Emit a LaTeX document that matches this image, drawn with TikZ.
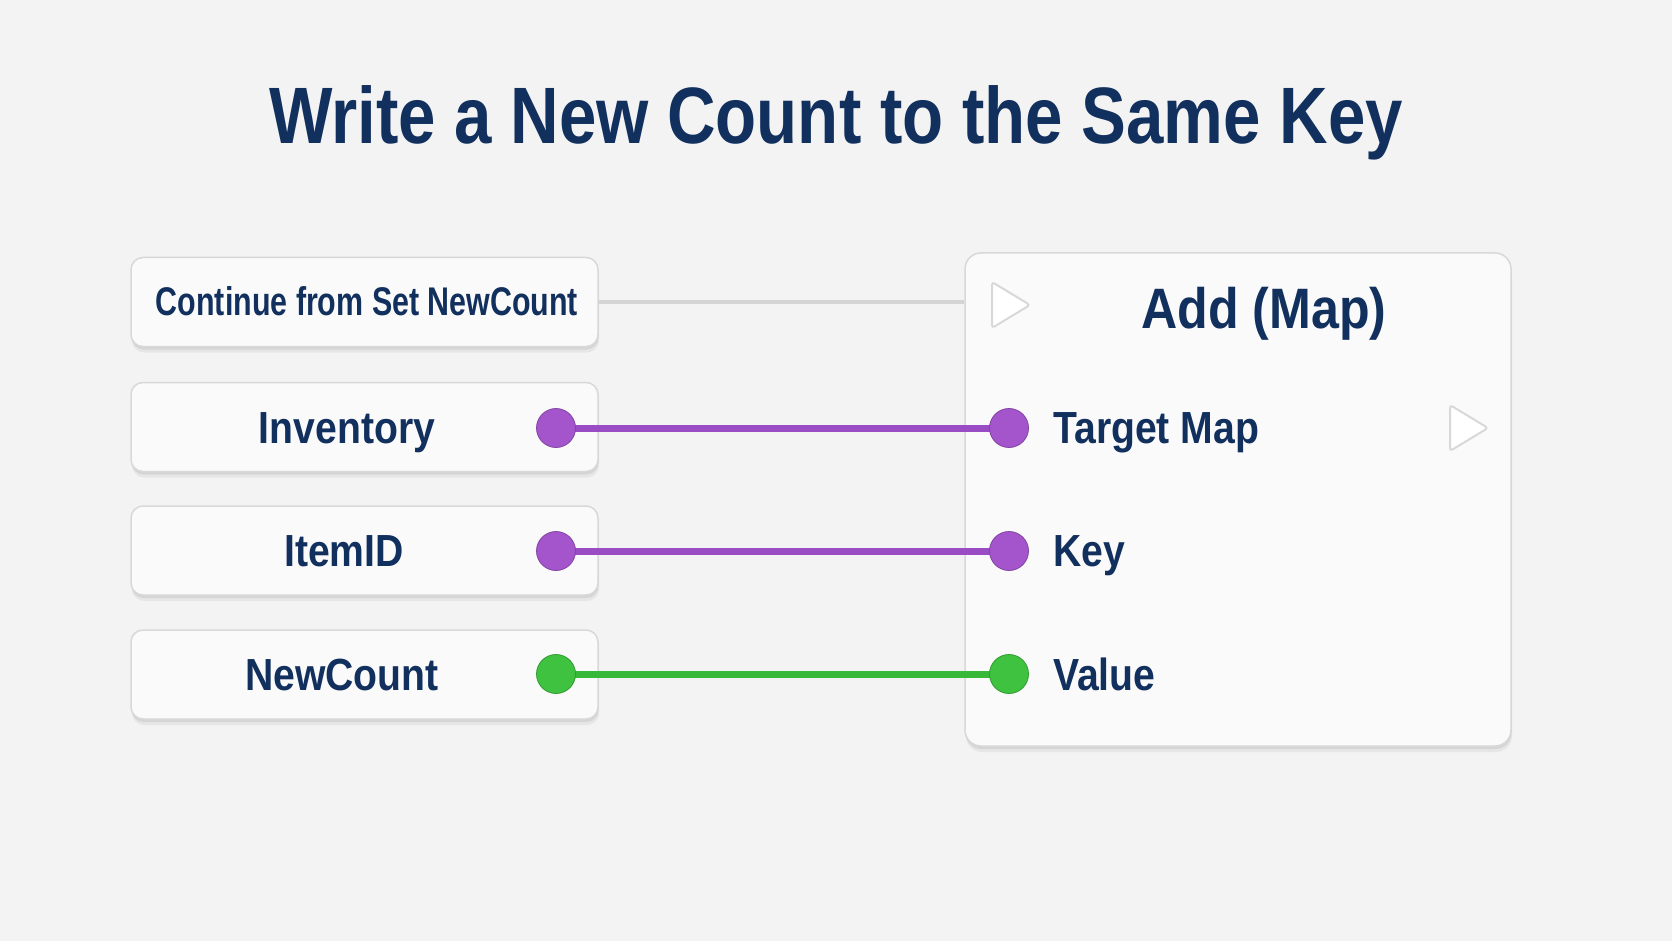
\documentclass[tikz,border=0pt]{standalone}
\usepackage{fontspec}
\setmainfont{Liberation Sans}
\newfontfamily\ttlfont[FakeStretch=0.84]{Liberation Sans}
\newfontfamily\lblfont[FakeStretch=0.87]{Liberation Sans}
\newfontfamily\addfont[FakeStretch=0.88]{Liberation Sans}
\newfontfamily\contfont[FakeStretch=0.76]{Liberation Sans}
\usetikzlibrary{shadows}
\definecolor{bg}{HTML}{F3F3F3}
\definecolor{navy}{HTML}{12305E}
\definecolor{boxfill}{HTML}{FAFAFA}
\definecolor{boxline}{HTML}{D8D8D8}
\definecolor{purp}{HTML}{9A4CC4}
\definecolor{purpdot}{HTML}{A455CC}
\definecolor{grn}{HTML}{38B838}
\definecolor{grndot}{HTML}{3FC23F}
\definecolor{execgrey}{HTML}{D4D4D4}
\begin{document}
\begin{tikzpicture}[x=1pt,y=-1pt,
  softshadow/.style={general shadow={fill=black, opacity=0.05, shadow xshift=1pt, shadow yshift=-6pt},
    general shadow={fill=black, opacity=0.07, shadow xshift=0.5pt, shadow yshift=-3pt}},
  srcbox/.style={draw=boxline, line width=1.5pt, fill=boxfill, rounded corners=12pt,
    minimum width=467pt, minimum height=89pt, inner sep=0pt, softshadow},
  bigbox/.style={draw=boxline, line width=1.5pt, fill=boxfill, rounded corners=16pt,
    minimum width=546pt, minimum height=493pt, inner sep=0pt, softshadow},
  lbl/.style={text=navy, font=\lblfont\bfseries\fontsize{45}{50}\selectfont, inner sep=0pt},
  pin/.style={circle, minimum size=39pt, inner sep=0pt, draw=#1!80!black, line width=0.8pt},
  wire/.style={line width=7pt, #1},
  execwire/.style={line width=3.5pt, execgrey},
  tri/.style={draw=boxline, line width=2pt, fill=white, rounded corners=3pt}]
\useasboundingbox (0,0) rectangle (1672,941);
\fill[bg] (0,0) rectangle (1672,941);

\node[text=navy, font=\ttlfont\bfseries\fontsize{80}{90}\selectfont, inner sep=0pt, anchor=base] (title) at (836,144) {Write a New Count to the Same Key};

% source boxes
\node[srcbox] (b1) at (364.5,302) {};
\node[srcbox] (b2) at (364.5,427) {};
\node[srcbox] (b3) at (364.5,550.5) {};
\node[srcbox] (b4) at (364.5,674.5) {};
\node[bigbox] (add) at (1238,499.5) {};

\node[text=navy, font=\contfont\bfseries\fontsize{40}{46}\selectfont, inner sep=0pt, anchor=base] (t1) at (367,315) {Continue from Set NewCount};
\node[lbl, anchor=base] (t2) at (347,443.5) {Inventory};
\node[lbl, anchor=base] (t3) at (344,566) {ItemID};
\node[lbl, anchor=base] (t4) at (342,690) {NewCount};

\node[text=navy, font=\addfont\bfseries\fontsize{57}{62}\selectfont, inner sep=0pt, anchor=base] (addt) at (1264,328) {Add (Map)};
\node[lbl, anchor=base west] (tm) at (1053,443.5) {Target Map};
\node[lbl, anchor=base west] (tk) at (1053,566) {Key};
\node[lbl, anchor=base west] (tv) at (1053,690) {Value};

% pins
\coordinate (p2) at (556,428);
\coordinate (p3) at (556,551);
\coordinate (p4) at (556,674);
\coordinate (q2) at (1009,428);
\coordinate (q3) at (1009,551);
\coordinate (q4) at (1009,674);

% exec wire and triangles
\draw[execwire] (b1.east) -- (b1.east -| add.west);
\coordinate (ein) at (992,305);
\coordinate (eout) at (1450,428);
\draw[tri] (ein) ++(0,-23) -- ++(38,23) -- ++(-38,23) -- cycle;
\draw[tri] (eout) ++(0,-23) -- ++(38,23) -- ++(-38,23) -- cycle;

% data wires
\draw[wire=purp] (p2) -- (q2);
\draw[wire=purp] (p3) -- (q3);
\draw[wire=grn] (p4) -- (q4);

\node[pin=purpdot, fill=purpdot] (n2) at (p2) {};
\node[pin=purpdot, fill=purpdot] (n3) at (p3) {};
\node[pin=grndot, fill=grndot] (n4) at (p4) {};
\node[pin=purpdot, fill=purpdot] (m2) at (q2) {};
\node[pin=purpdot, fill=purpdot] (m3) at (q3) {};
\node[pin=grndot, fill=grndot] (m4) at (q4) {};
\end{tikzpicture}
\end{document}
